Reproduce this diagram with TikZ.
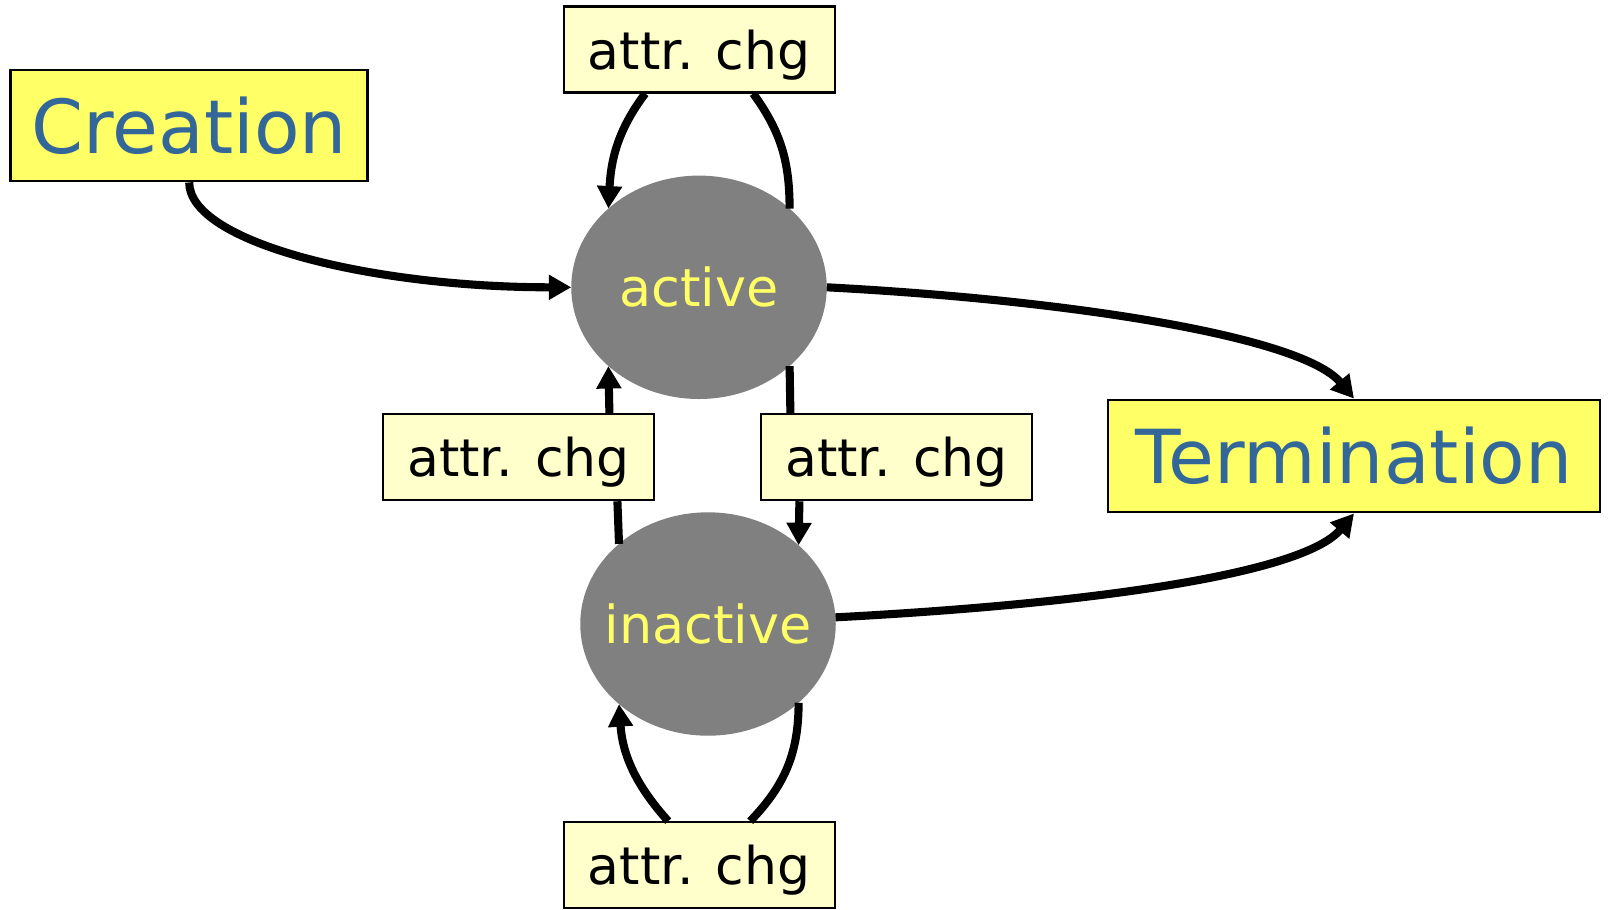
\documentclass[tikz,border=0pt]{standalone}
\usepackage{fontspec}
\setmainfont{DejaVu Sans}
\usetikzlibrary{arrows.meta,shapes.geometric}

\begin{document}
\begin{tikzpicture}[x=1cm,y=1cm,
    endbox/.style={draw=black, line width=0.8pt, fill=endfill, text=endtext,
        minimum width=3.57cm, minimum height=1.11cm, inner sep=0pt,
        font=\fontsize{21.2}{25}\selectfont},
    chgbox/.style={draw=black, line width=0.6pt, fill=chgfill, text=black,
        minimum width=2.71cm, minimum height=0.86cm, inner sep=0pt, text depth=0pt,
        font=\fontsize{14.8}{17}\selectfont},
    state/.style={ellipse, fill=statefill, text=statetext, inner sep=0pt, outer sep=0pt,
        minimum width=2.555cm, minimum height=2.234cm,
        font=\fontsize{14.9}{17}\selectfont},
    flow/.style={line width=2.3pt},
    flowto/.style={flow, -{Triangle[length=6.4pt,width=6.8pt]}}]
    % Define colors
    \definecolor{endfill}{HTML}{FFFF66}
    \definecolor{endtext}{HTML}{336699}
    \definecolor{chgfill}{HTML}{FFFFCC}
    \definecolor{statefill}{HTML}{808080}
    \definecolor{statetext}{HTML}{FFFF66}

    \useasboundingbox (0,0) rectangle (16.08,-9.09);

    % Start and end
    \node[endbox] (creation) at (1.892,-1.255) {Creation};
    \node[endbox, minimum width=4.92cm, minimum height=1.12cm] (termination) at (13.54,-4.56) {Termination};

    % States
    \node[state] (active) at (6.99,-2.873) {\makebox[0pt]{active}};
    \node[state] (inactive) at (7.08,-6.24) {\makebox[0pt]{inactive}};

    % Attribute changes
    \node[chgbox] (chgtop) at (6.992,-0.495) {attr. chg};
    \node[chgbox] (chgleft) at (5.184,-4.572) {attr. chg};
    \node[chgbox] (chgright) at (8.964,-4.572) {attr. chg};
    \node[chgbox] (chgbot) at (6.992,-8.652) {attr. chg};

    % Creation and termination
    \draw[flowto] (creation.south) to[out=-90, in=180, out distance=0.6cm, in distance=2cm] (active.west);
    \draw[flowto] (active.east) to[out=-3, in=130, out distance=2.5cm, in distance=0.8cm] (termination.north);
    \draw[flowto] (inactive.3) to[out=3, in=-130, out distance=2.5cm, in distance=0.8cm] (termination.south);

    % Loop on active
    \draw[flow] (active.41) to[out=90, in=-54] ([xshift=0.54cm]chgtop.south);
    \draw[flowto] ([xshift=-0.54cm]chgtop.south) to[out=-127, in=87] (active.139);

    % Between active and inactive
    \draw[flow] (inactive.138) -- ([xshift=0.99cm]chgleft.south);
    \draw[flowto] ([xshift=0.91cm]chgleft.north) -- (active.221);
    \draw[flow] (active.319) -- ([xshift=-1.06cm]chgright.north);
    \draw[flowto] ([xshift=-0.97cm]chgright.south) -- (inactive.41);

    % Loop on inactive
    \draw[flow] (inactive.319) to[out=-90, in=46] ([xshift=0.51cm]chgbot.north);
    \draw[flowto] ([xshift=-0.31cm]chgbot.north) to[out=132, in=-86] (inactive.222);
\end{tikzpicture}
\end{document}
